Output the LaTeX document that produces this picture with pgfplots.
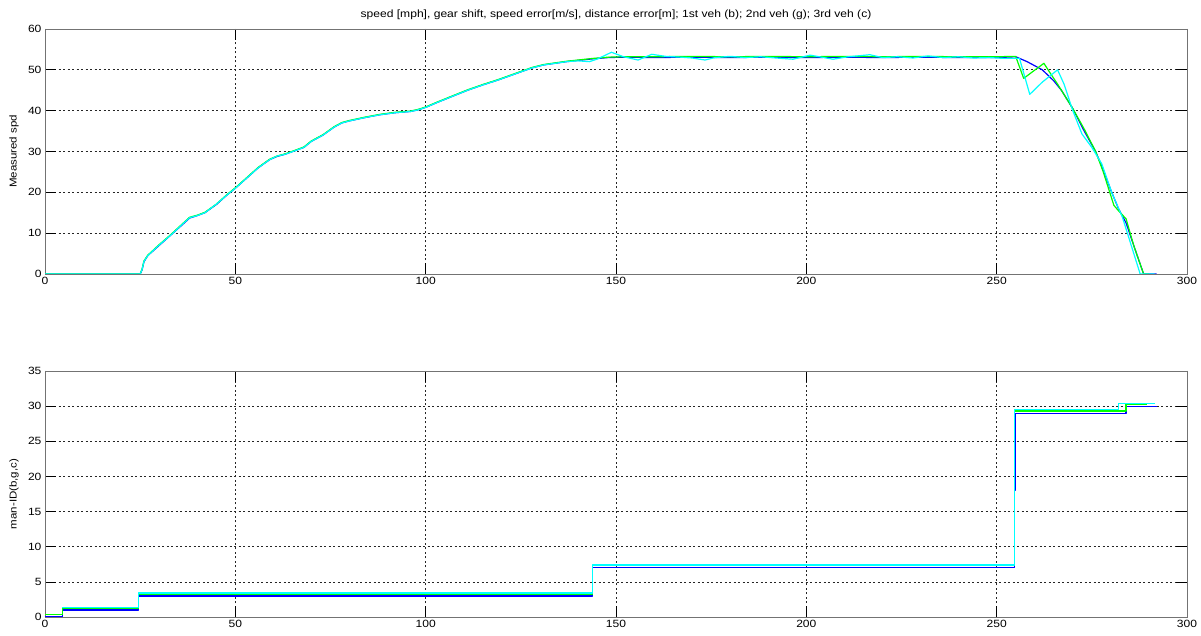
\documentclass[border=0pt]{standalone}
\usepackage{fontspec}
\setmainfont{Liberation Sans}[FakeStretch=1.15]
\usepackage{pgfplots}
\pgfplotsset{compat=1.18}

\definecolor{mblue}{rgb}{0,0,1}
\definecolor{mgreen}{rgb}{0,1,0}
\definecolor{mcyan}{rgb}{0,1,1}

\pgfplotsset{
  mstyle/.style={
    scale only axis,
    width=1142pt,
    xmin=0, xmax=300,
    xtick={0,50,...,300},
    tick align=inside,
    xtick pos=both, ytick pos=both,
    major tick length=11pt,
    axis line style={black!55, line width=0.8pt},
    tick style={black, line width=0.7pt},
    grid=major,
    major grid style={black!85, dash pattern=on 2pt off 2.5pt, line width=0.7pt},
    /pgf/number format/assume math mode=true,
    tick label style={font=\fontsize{10.5}{12}\selectfont},
    label style={font=\fontsize{10.5}{12}\selectfont},
    every axis y label/.style={at={(axis description cs:-0.0271,0.5)}, rotate=90, anchor=center},
    every axis plot/.append style={line width=1.2pt, line join=round},
  }
}

\begin{document}
\begin{tikzpicture}[x=1pt,y=1pt]
\useasboundingbox (0,0) rectangle (1201,636);

% ---------- speed ----------
\begin{axis}[mstyle,
  at={(45pt,362pt)}, anchor=south west,
  height=245pt,
  ymin=0, ymax=60, ytick={0,10,...,60},
  ylabel={Measured spd},
  title={speed [mph], gear shift, speed error[m/s], distance error[m]; 1st veh (b); 2nd veh (g); 3rd veh (c)},
  title style={at={(0.5,1)}, anchor=base, yshift=5pt, font=\fontsize{10.5}{12}\selectfont},
]
\addplot[mblue] coordinates {
(0,0) (25,0) (25.5,1) (26,3) (27,4.5) (30,7) (33,9.5) (36,12) (38,13.7) (40,14.3)
(42,15) (45,17) (48,19.5) (50,21) (53,23.5) (56,26) (59,28) (61,28.8) (63,29.3)
(66,30.3) (68,31) (70,32.5) (73,34) (76,36) (78,37) (80,37.5) (84,38.3) (88,39)
(92,39.5) (96,39.8) (98,40.2) (100,40.8) (103,42) (107,43.5) (111,45) (115,46.3)
(119,47.5) (122,48.5) (125,49.5) (128,50.5) (131,51.2) (134,51.6) (137,52)
(140,52.3) (144,52.7) (148,53) (152,53.1) (160,53) (170,53.1) (180,53) (190,53.1)
(200,53) (210,53.1) (220,53) (230,53.1) (240,53) (250,53) (255,53.2)
(258,52) (262,50) (265,47.3) (267,45) (270,40.5) (273,35) (276,30) (278,25.5)
(280,20.5) (282,16) (284,12.5) (286,7) (288.6,0) (292,0)
};
\addplot[mgreen] coordinates {
(0,0) (25,0) (25.5,1.2) (26,3.2) (27,4.6) (30,7.2) (33,9.6) (36,12.2) (38,13.9) (40,14.4)
(42,15.1) (45,17.1) (48,19.6) (50,21.1) (53,23.6) (56,26.1) (59,28.1) (61,28.9) (63,29.4)
(66,30.4) (68,31.1) (70,32.6) (73,34.1) (76,36.1) (78,37.1) (80,37.6) (84,38.4) (88,39.1)
(92,39.6) (96,39.9) (98,40.3) (100,40.9) (103,42.1) (107,43.6) (111,45.1) (115,46.4)
(119,47.6) (122,48.6) (125,49.6) (128,50.6) (131,51.3) (134,51.7) (137,52.1)
(140,52.4) (144,52.8) (148,53.1) (152,53.2) (160,53.2) (170,53.3) (180,53.2) (190,53.3)
(200,53.2) (210,53.3) (220,53.2) (230,53.3) (240,53.2) (250,53.2) (255,53.3)
(257.1,47.9) (262.4,51.6) (264,49.3) (266,46.5) (270,40.5) (273,35.5) (276,30)
(278,25) (280.8,16.8) (282,15.5) (284,13.5) (286,7) (288.6,0) (290,0)
};
\addplot[mcyan] coordinates {
(0,0) (25,0) (25.5,1.1) (26,3.1) (27,4.5) (30,7.1) (33,9.5) (36,12.1) (38,13.8) (40,14.3)
(42,15) (45,17.1) (48,19.5) (50,21) (53,23.5) (56,26) (59,28) (61,28.9) (63,29.3)
(66,30.3) (68,31) (70,32.5) (73,34) (76,36) (78,37) (80,37.5) (84,38.3) (88,39)
(92,39.5) (96,39.8) (98,40.2) (100,40.8) (103,42) (107,43.5) (111,45) (115,46.3)
(119,47.5) (122,48.5) (125,49.5) (128,50.5) (131,51.2) (134,51.6) (137,52)
(140,52.2) (143,52) (145,52.6) (148.8,54.3) (152,53.2) (155.8,52.4) (159.4,53.8)
(163,53.3) (167,53.1) (170,52.9) (173.4,52.4) (176,53) (180,53.3) (184,53)
(188,53.2) (192,52.9) (196.5,52.6) (201,53.6) (204,53.1) (207,52.6) (211,53.2)
(216.7,53.7) (220,53) (224,53.2) (228,52.9) (232,53.4) (236,53) (240,53.2)
(244,52.9) (248,53) (252,52.8) (256,52.8)
(258.7,44) (262,47) (266,50) (267.7,46.5) (270,40) (272.4,34.3) (275,31)
(277.6,27) (280.3,19.8) (283,14) (287.7,0) (291.5,0)
};
\end{axis}

% ---------- manoeuvre id ----------
\begin{axis}[mstyle,
  at={(45pt,19pt)}, anchor=south west,
  height=246pt,
  ymin=0, ymax=35, ytick={0,5,...,35},
  ylabel={man-ID(b,g,c)},
]
\addplot[mblue] coordinates {
(0,0) (4.5,0) (4.5,1) (24.5,1) (24.5,3) (143.9,3) (143.9,7) (254.6,7)
(254.6,18) (254.8,18) (254.8,29) (284,29) (284,30) (292.2,30)
};
\addplot[mgreen] coordinates {
(0,0.3) (4.5,0.3) (4.5,1.25) (24.5,1.25) (24.5,3.25) (143.9,3.25) (143.9,7.3) (254.6,7.3)
(254.6,29.3) (284,29.3) (284,30.3) (289.4,30.3)
};
\addplot[mcyan] coordinates {
(4.5,1.4) (24.5,1.4) (24.5,3.4) (143.9,3.4) (143.9,7.4) (254.6,7.4)
(254.6,29.5) (281.9,29.5) (281.9,30.4) (291.7,30.4)
};
\end{axis}
\end{tikzpicture}
\end{document}
